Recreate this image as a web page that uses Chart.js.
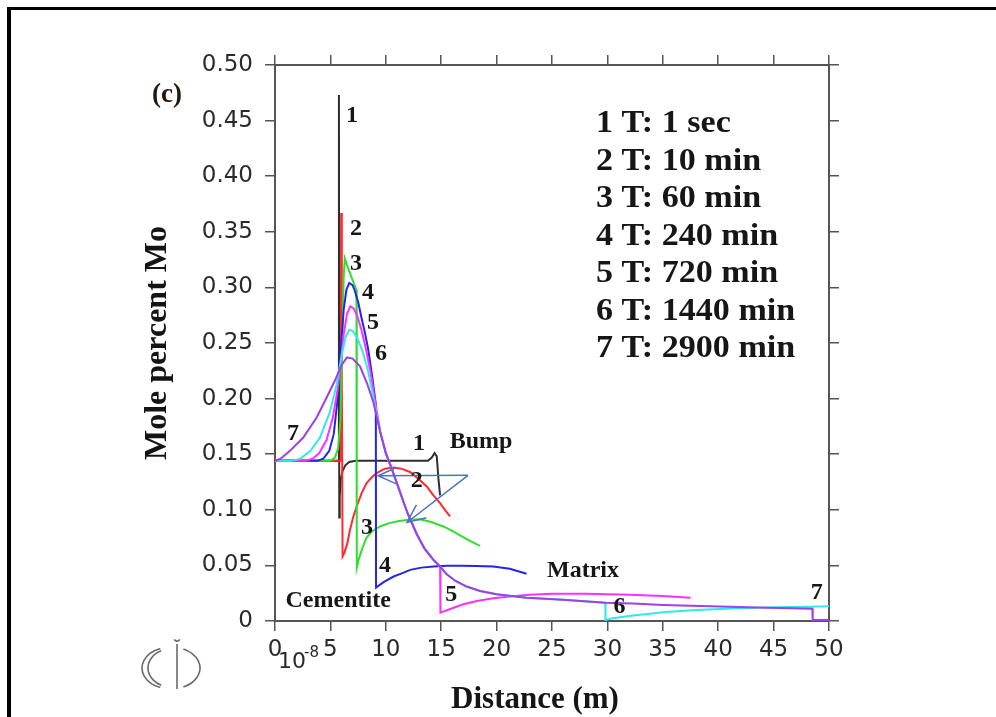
<!DOCTYPE html>
<html>
<head>
<meta charset="utf-8">
<title>Mole percent Mo vs distance</title>
<script src="https://cdn.jsdelivr.net/npm/chart.js@4/dist/chart.umd.min.js"></script>
<style>
  html, body { margin: 0; padding: 0; background: #fff; }
  canvas { display: block; }
</style>
</head>
<body>
<canvas id="chart" width="996" height="717" style="width:996px;height:717px"></canvas>
<script>
// Mo profiles across the cementite / matrix interface, distance in units of 1e-8 m.
// Each profile is a list of [distance, mole fraction Mo] points.
const profile1 = [[0,0.144],[5.74,0.144],[5.77,0.473],[5.80,0.093],[5.84,0.112],[5.93,0.127],[6.1,0.135],[6.35,0.140],[6.7,0.143],[7.3,0.144],[10,0.144],[13.8,0.144],[14.15,0.147],[14.4,0.151],[14.6,0.148],[14.75,0.128],[14.9,0.113]];
const profile2 = [[0,0.144],[5.94,0.144],[5.97,0.367],[6.03,0.22],[6.1,0.058],[6.25,0.061],[6.53,0.070],[6.77,0.082],[7.07,0.094],[7.37,0.103],[7.82,0.115],[8.27,0.124],[8.72,0.129],[9.17,0.133],[9.93,0.137],[10.68,0.138],[11.4,0.137],[12.18,0.134],[12.93,0.128],[13.7,0.121],[14.3,0.113],[14.9,0.106],[15.34,0.100],[15.8,0.094]];
const profile3 = [[0,0.144],[5.0,0.144],[5.4,0.147],[5.7,0.155],[5.9,0.18],[6.05,0.24],[6.2,0.31],[6.3,0.326],[6.5,0.320],[6.8,0.312],[7.1,0.304],[7.35,0.298],[7.38,0.048],[7.6,0.057],[7.9,0.066],[8.27,0.075],[8.8,0.081],[9.48,0.085],[10.3,0.088],[11.2,0.090],[12.1,0.091],[13.1,0.0915],[14.1,0.089],[15.2,0.085],[16.0,0.081],[16.7,0.077],[17.6,0.072],[18.5,0.0675]];
const profile4 = [[0,0.144],[3.8,0.144],[4.36,0.146],[4.9,0.153],[5.3,0.168],[5.6,0.195],[5.9,0.24],[6.2,0.28],[6.45,0.298],[6.7,0.304],[7.0,0.302],[7.2,0.297],[7.5,0.287],[7.8,0.273],[8.1,0.26],[8.4,0.245],[8.7,0.225],[8.9,0.210],[9.1,0.195],[9.12,0.030],[9.8,0.035],[10.7,0.040],[11.5,0.043],[12.2,0.046],[13.2,0.048],[14.3,0.049],[15.5,0.0497],[16.7,0.0497],[18.2,0.0495],[19.7,0.049],[21.2,0.047],[22.7,0.0425]];
const profile5 = [[0,0.144],[2.8,0.144],[3.4,0.146],[4.0,0.151],[4.66,0.163],[5.2,0.182],[5.6,0.205],[5.9,0.228],[6.2,0.258],[6.5,0.276],[6.8,0.283],[7.1,0.281],[7.4,0.275],[7.8,0.262],[8.2,0.245],[8.6,0.225],[9.0,0.200],[9.5,0.170],[10.0,0.151],[10.5,0.138],[11.0,0.124],[11.6,0.107],[12.0,0.096],[12.8,0.078],[13.5,0.065],[14.3,0.055],[14.9,0.049],[14.93,0.0075],[16.0,0.0115],[17.0,0.015],[18.2,0.018],[19.7,0.0205],[21.2,0.022],[23,0.0235],[25,0.0245],[28,0.0245],[32,0.0235],[35,0.0225],[37.5,0.021]];
const profile6 = [[0,0.144],[1.5,0.144],[2.3,0.146],[3.2,0.153],[4.06,0.165],[4.96,0.188],[5.57,0.213],[6.0,0.238],[6.35,0.255],[6.7,0.262],[7.0,0.261],[7.4,0.255],[7.9,0.243],[8.4,0.225],[8.9,0.200],[9.5,0.170],[10.0,0.151],[10.5,0.138],[11.0,0.124],[11.6,0.107],[12.0,0.096],[12.8,0.078],[13.5,0.065],[14.3,0.055],[14.9,0.049],[15.5,0.042],[16.3,0.036],[17.3,0.031],[18.5,0.027],[20,0.024],[22.7,0.021],[26,0.019],[29.8,0.0165],[29.83,0.001],[30.5,0.0025],[32.3,0.005],[35.3,0.0082],[38,0.010],[41.3,0.0113],[45,0.0123],[48.3,0.0129],[50,0.0132]];
const profile7 = [[0,0.144],[0.5,0.146],[1.35,0.153],[2.55,0.165],[3.76,0.183],[4.66,0.201],[5.4,0.216],[6.0,0.230],[6.5,0.237],[7.0,0.236],[7.67,0.229],[8.3,0.214],[8.87,0.197],[9.5,0.170],[10.0,0.151],[10.5,0.138],[11.0,0.124],[11.6,0.107],[12.0,0.096],[12.8,0.078],[13.5,0.065],[14.3,0.055],[14.9,0.049],[15.5,0.042],[16.3,0.036],[17.3,0.031],[18.5,0.027],[20,0.024],[22.7,0.021],[26,0.019],[29.8,0.0165],[32.3,0.0157],[35,0.0145],[38.4,0.0135],[41,0.0128],[44.4,0.012],[48.5,0.011],[48.53,0.001],[50,0.001]];

const profiles = [profile1, profile2, profile3, profile4, profile5, profile6, profile7];
const profileColors = ['#2e2e2e', '#ff2a2a', '#2ee02e', '#2424f0', '#ff30ff', '#30e8f0', '#a23ee6'];

// Holding times shown in the key
const timeKey = ['1 T: 1 sec', '2 T: 10 min', '3 T: 60 min', '4 T: 240 min', '5 T: 720 min', '6 T: 1440 min', '7 T: 2900 min'];

// Axis tick labels
const xTickLabels = ['0','5','10','15','20','25','30','35','40','45','50'];
const yTickLabels = ['0','0.05','0.10','0.15','0.20','0.25','0.30','0.35','0.40','0.45','0.50'];

// Annotations placed in data units: [text, distance, Mo]
const curveNotes = [
  ['1', 6.95, 0.454], ['2', 7.31, 0.353], ['3', 7.31, 0.321], ['4', 8.39, 0.295],
  ['5', 8.84, 0.268], ['6', 9.57, 0.240], ['7', 1.62, 0.168],
  ['1', 13.0, 0.159], ['Bump', 18.6, 0.161], ['2', 12.8, 0.126], ['3', 8.3, 0.084],
  ['4', 9.93, 0.0495], ['Matrix', 27.8, 0.045], ['5', 15.9, 0.0234],
  ['Cementite', 5.7, 0.018], ['6', 31.1, 0.0126], ['7', 48.9, 0.025]
];
// Pointer arrows toward the bump: shared tail, two heads
const arrowTail = [17.42, 0.131];
const arrowHeads = [[9.3, 0.1306], [11.91, 0.0886]];

const SERIF = '"Liberation Serif", "Times New Roman", serif';
const SANS = '"DejaVu Sans", "Liberation Sans", sans-serif';
const AXIS_GRAY = '#555';

function drawArrow(ctx, x0, y0, x1, y1) {
  const ang = Math.atan2(y1 - y0, x1 - x0);
  const len = 20, spread = 0.42;
  ctx.beginPath();
  ctx.moveTo(x0, y0);
  ctx.lineTo(x1, y1);
  ctx.moveTo(x1 - len * Math.cos(ang - spread), y1 - len * Math.sin(ang - spread));
  ctx.lineTo(x1, y1);
  ctx.lineTo(x1 - len * Math.cos(ang + spread), y1 - len * Math.sin(ang + spread));
  ctx.stroke();
}

function drawEmblem(ctx, cx, cy) {
  ctx.save();
  ctx.strokeStyle = '#6a6a6a';
  ctx.lineWidth = 1.6;
  ctx.beginPath();
  ctx.ellipse(cx, cy, 29, 21, 0, Math.PI * 0.62, Math.PI * 1.38);
  ctx.stroke();
  ctx.beginPath();
  ctx.ellipse(cx, cy, 23, 19, 0, Math.PI * 0.64, Math.PI * 1.36);
  ctx.stroke();
  ctx.beginPath();
  ctx.ellipse(cx, cy, 29, 21, 0, -Math.PI * 0.36, Math.PI * 0.36);
  ctx.stroke();
  ctx.beginPath();
  ctx.moveTo(cx + 6, cy - 24);
  ctx.lineTo(cx + 6, cy + 21);
  ctx.stroke();
  ctx.beginPath();
  ctx.arc(cx + 6, cy - 30, 3, 0.15 * Math.PI, 0.85 * Math.PI);
  ctx.stroke();
  ctx.restore();
}

const figureDecor = {
  id: 'figureDecor',
  beforeDraw(chart) {
    const ctx = chart.ctx;
    ctx.save();
    ctx.fillStyle = '#fff';
    ctx.fillRect(0, 0, chart.width, chart.height);
    ctx.fillStyle = '#000';
    ctx.fillRect(7, 7, chart.width - 7, 3);
    ctx.fillRect(7, 7, 4, chart.height - 7);
    ctx.restore();
  },
  afterDraw(chart) {
    const { ctx, chartArea: area } = chart;
    const xs = chart.scales.x, ys = chart.scales.y;
    ctx.save();

    // arrows
    ctx.strokeStyle = '#4a74c0';
    ctx.lineWidth = 1.5;
    const tx = xs.getPixelForValue(arrowTail[0]), ty = ys.getPixelForValue(arrowTail[1]);
    for (const [hx, hy] of arrowHeads) {
      drawArrow(ctx, tx, ty, xs.getPixelForValue(hx), ys.getPixelForValue(hy));
    }

    // curve numbers and region names
    ctx.fillStyle = '#161616';
    ctx.textAlign = 'center';
    ctx.textBaseline = 'middle';
    ctx.font = `bold 24px ${SERIF}`;
    for (const [t, dx, dy] of curveNotes) {
      ctx.fillText(t, xs.getPixelForValue(dx), ys.getPixelForValue(dy));
    }

    // key of holding times (set slightly wide)
    ctx.save();
    ctx.font = `bold 31px ${SERIF}`;
    ctx.textAlign = 'left';
    ctx.textBaseline = 'alphabetic';
    const keyStretch = 1.1;
    ctx.scale(keyStretch, 1);
    timeKey.forEach((t, i) => ctx.fillText(t, (area.left + 321) / keyStretch, area.top + 67 + i * 37.5));
    ctx.restore();

    // x axis title and scale factor
    ctx.textBaseline = 'alphabetic';
    ctx.textAlign = 'center';
    ctx.font = `bold 31px ${SERIF}`;
    ctx.fillText('Distance (m)', 535, 708);
    ctx.fillStyle = '#2a2a2a';
    ctx.textAlign = 'left';
    ctx.font = `22px ${SANS}`;
    ctx.fillText('10', 278, 668);
    ctx.font = `15px ${SANS}`;
    ctx.fillText('-8', 304, 657);

    // panel tag
    ctx.fillStyle = '#24180c';
    ctx.textAlign = 'center';
    ctx.font = `bold 27px ${SERIF}`;
    ctx.fillText('(c)', 167, 102);

    drawEmblem(ctx, 171, 668);
    ctx.restore();
  }
};

function labelFor(list, v) {
  const hit = list.find(s => Math.abs(parseFloat(s) - v) < 1e-6);
  return hit === undefined ? '' : hit;
}

const frameGrid = { drawOnChartArea: false, drawTicks: true, tickLength: 10, color: AXIS_GRAY, lineWidth: 1.5 };
const frameBorder = { display: true, color: AXIS_GRAY, width: 2 };

new Chart(document.getElementById('chart'), {
  type: 'scatter',
  data: {
    datasets: profiles.map((p, i) => ({
      label: timeKey[i],
      data: p.map(([x, y]) => ({ x, y })),
      showLine: true,
      borderColor: profileColors[i],
      backgroundColor: profileColors[i],
      borderWidth: 2,
      pointRadius: 0,
      tension: 0,
      order: profiles.length - i
    }))
  },
  options: {
    responsive: false,
    animation: false,
    devicePixelRatio: 1,
    layout: { padding: { left: 137, top: 55, right: 0, bottom: 0 } },
    plugins: { legend: { display: false }, tooltip: { enabled: false } },
    scales: {
      x: {
        type: 'linear', position: 'bottom', min: 0, max: 50,
        ticks: {
          stepSize: 5, autoSkip: false, maxRotation: 0, padding: 5,
          color: '#2a2a2a', font: { family: SANS, size: 23 },
          callback: v => labelFor(xTickLabels, v)
        },
        grid: frameGrid, border: frameBorder,
        afterFit: s => { s.height = 96; }
      },
      x2: {
        type: 'linear', position: 'top', min: 0, max: 50,
        ticks: { stepSize: 5, display: false },
        grid: frameGrid, border: frameBorder,
        afterFit: s => { s.height = 10; }
      },
      y: {
        type: 'linear', position: 'left', min: 0, max: 0.5,
        ticks: {
          stepSize: 0.05, padding: 12,
          color: '#2a2a2a', font: { family: SANS, size: 23 },
          callback: v => labelFor(yTickLabels, v)
        },
        title: {
          display: true, text: 'Mole percent Mo', color: '#141414',
          font: { family: SERIF, size: 32, weight: 'bold' },
          padding: { top: 2, bottom: 2 }
        },
        grid: frameGrid, border: frameBorder,
        afterFit: s => { s.width = 138; }
      },
      y2: {
        type: 'linear', position: 'right', min: 0, max: 0.5,
        ticks: { stepSize: 0.05, display: false },
        grid: frameGrid, border: frameBorder,
        afterFit: s => { s.width = 167; }
      }
    }
  },
  plugins: [figureDecor]
});
</script>
</body>
</html>
